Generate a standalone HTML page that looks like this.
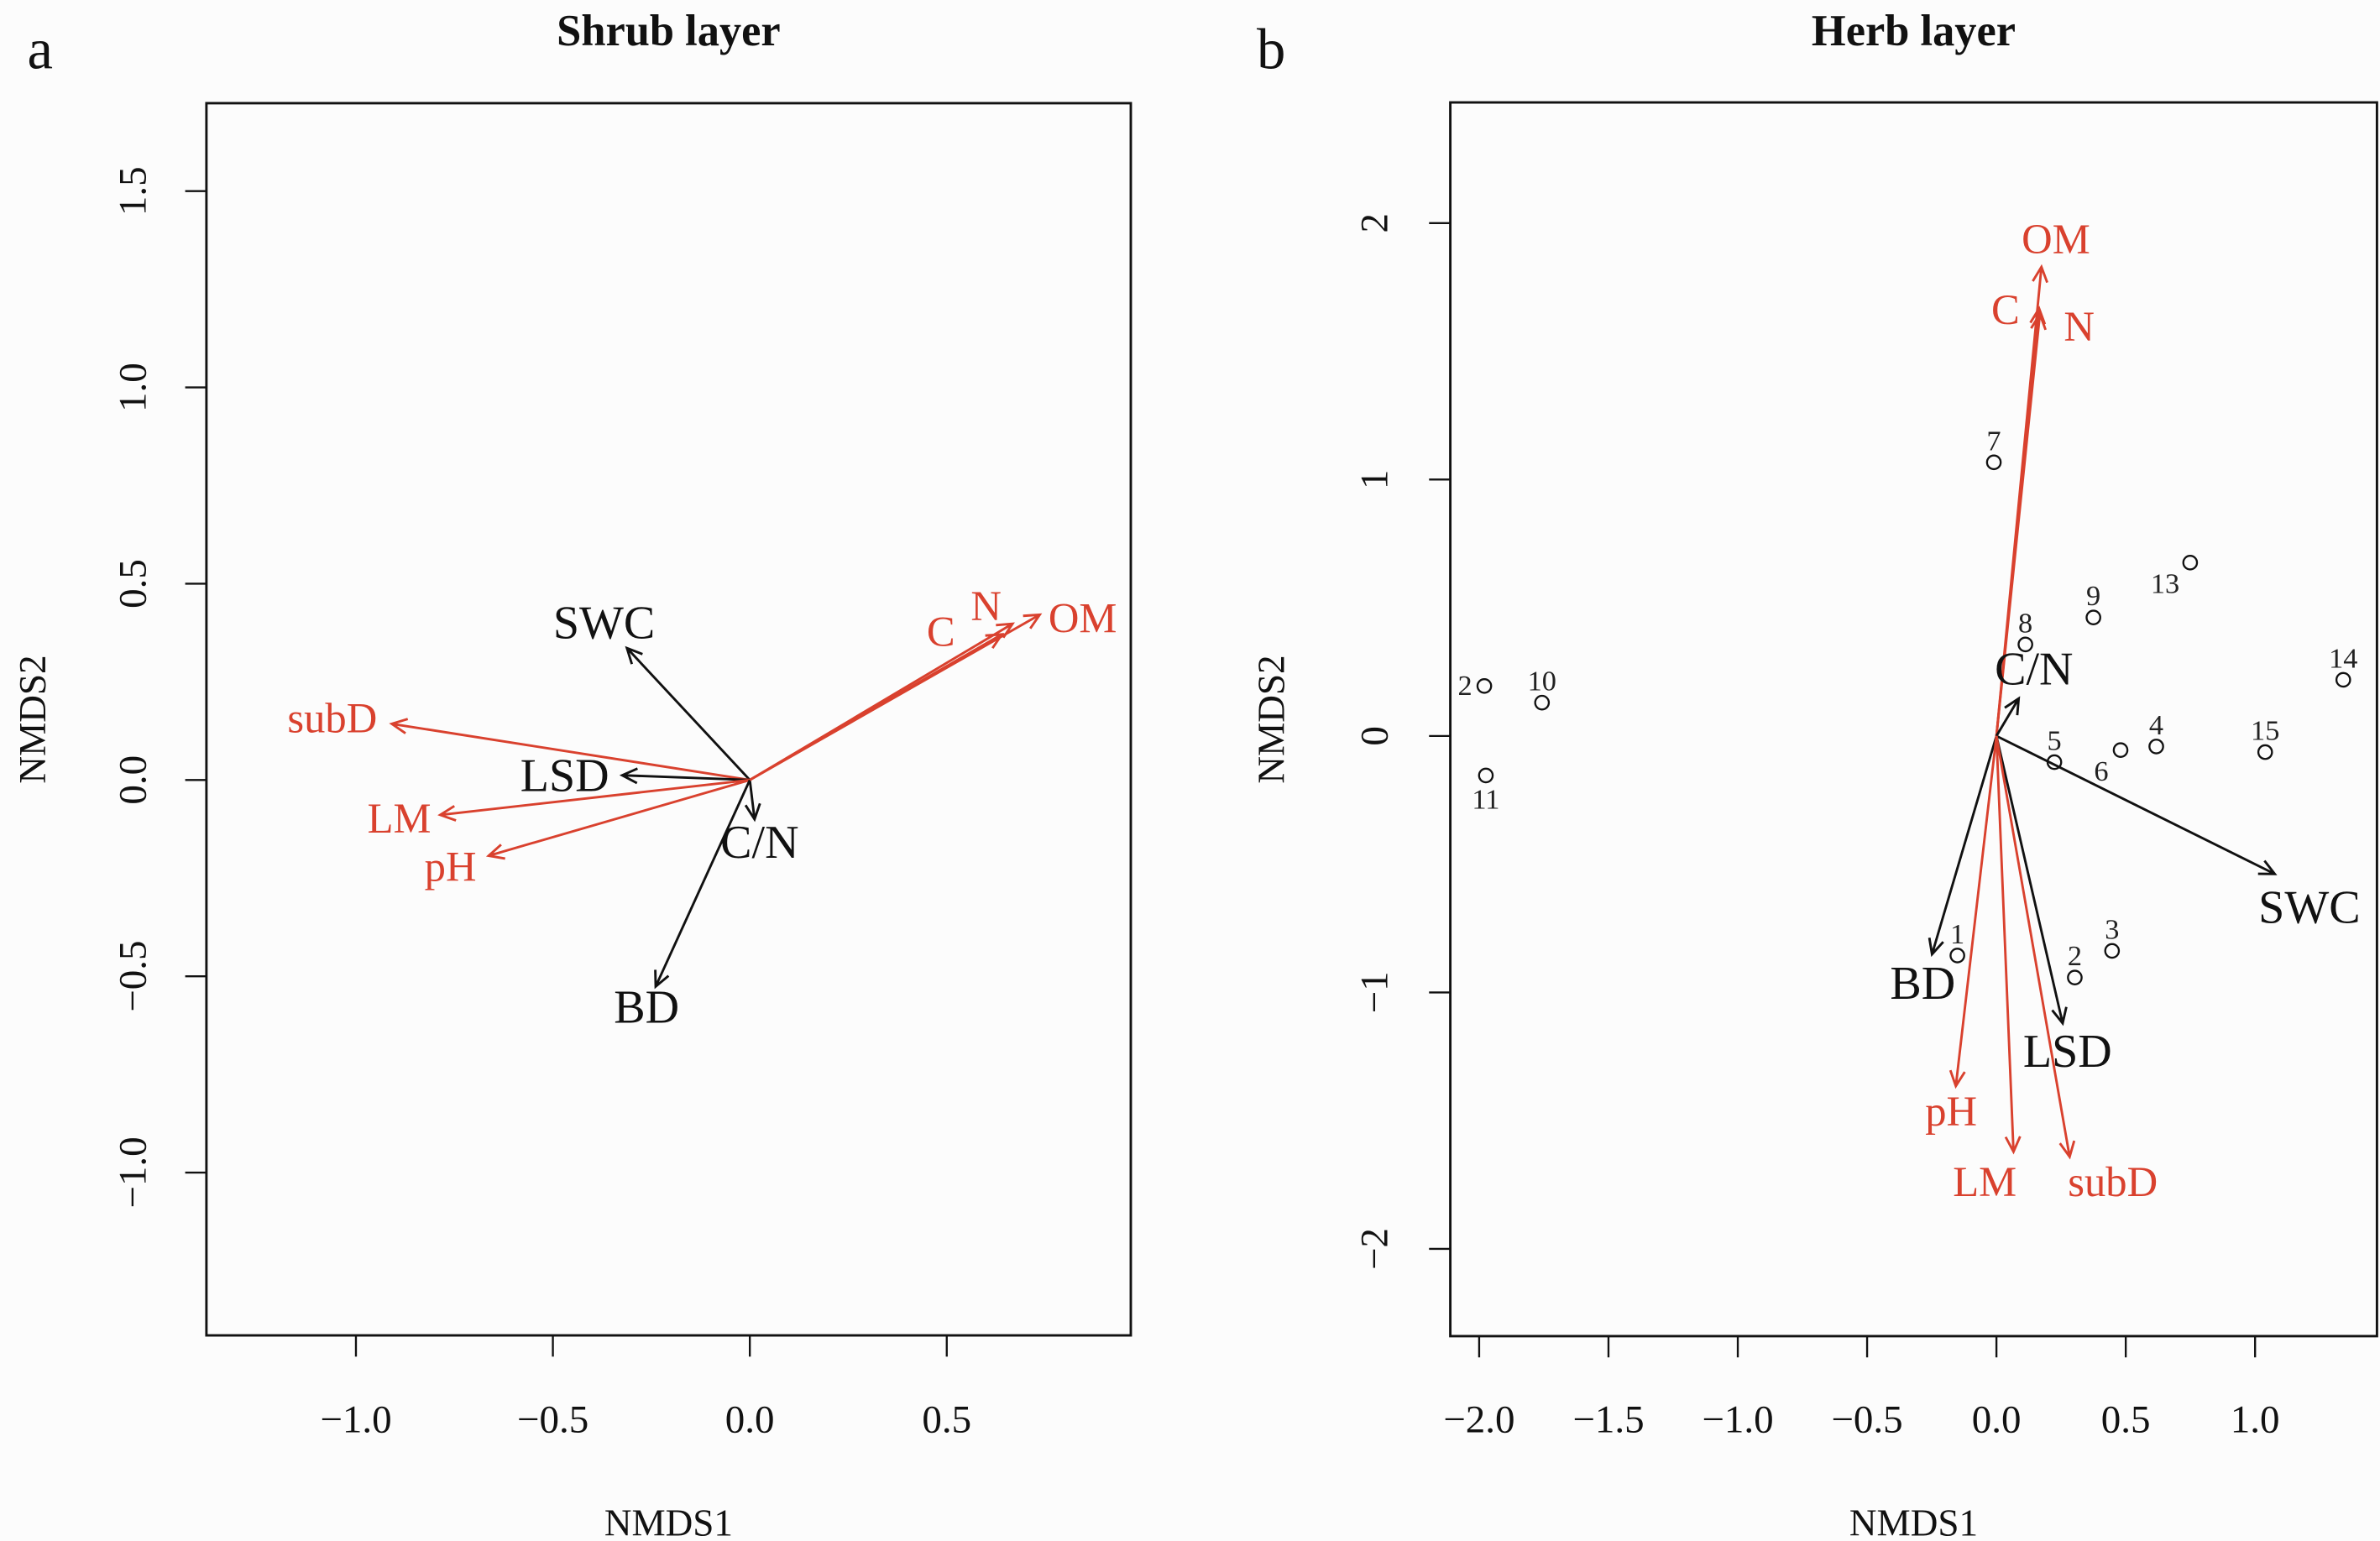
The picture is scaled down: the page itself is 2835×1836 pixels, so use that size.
<!DOCTYPE html>
<html><head><meta charset="utf-8">
<style>
html,body{margin:0;padding:0;background:#fcfcfc;}
svg{display:block;}
text{font-family:"Liberation Serif",serif;}
</style></head>
<body>
<svg id="chart" width="2835" height="1836" viewBox="0 0 1568 1015.5" preserveAspectRatio="none" xmlns="http://www.w3.org/2000/svg">
<rect x="0" y="0" width="1568" height="1015.5" fill="#fcfcfc"/>
<g id="root"></g>
</svg>
<script>
// ---- Panel a (Shrub layer) data ----
const aArrowNames = ["SWC","subD","LSD","LM","pH","C/N","BD","C","N","OM"];
const aArrowX = [-0.312,-0.909,-0.324,-0.786,-0.663,0.012,-0.239,0.640,0.667,0.736];
const aArrowY = [0.336,0.143,0.012,-0.089,-0.193,-0.100,-0.526,0.371,0.398,0.421];
const aArrowRed = [false,true,false,true,true,false,false,true,true,true];
const aLabelX = [-0.370,-1.060,-0.470,-0.890,-0.760,0.025,-0.262,0.485,0.600,0.845];
const aLabelY = [0.400,0.160,0.010,-0.095,-0.218,-0.160,-0.580,0.380,0.445,0.415];
const aXTicks = [-1.0,-0.5,0.0,0.5];
const aXTickLabels = ["\u22121.0","\u22120.5","0.0","0.5"];
const aYTicks = [1.5,1.0,0.5,0.0,-0.5,-1.0];
const aYTickLabels = ["1.5","1.0","0.5","0.0","\u22120.5","\u22121.0"];

// ---- Panel b (Herb layer) data ----
const bSiteLabels = ["7","8","9","13","14","15","4","6","5","1","2","3","2","10","11"];
const bSiteX = [-0.010,0.112,0.375,0.749,1.341,1.039,0.618,0.480,0.224,-0.151,0.303,0.447,-1.980,-1.757,-1.974];
const bSiteY = [1.067,0.357,0.462,0.676,0.219,-0.063,-0.041,-0.055,-0.102,-0.856,-0.942,-0.838,0.195,0.130,-0.154];
const bArrowNames = ["OM","C","N","C/N","SWC","BD","LSD","pH","LM","subD"];
const bArrowX = [0.174,0.165,0.168,0.086,1.076,-0.249,0.256,-0.157,0.066,0.283];
const bArrowY = [1.829,1.667,1.645,0.146,-0.538,-0.851,-1.120,-1.365,-1.621,-1.641];
const bArrowRed = [true,true,true,false,false,false,false,true,true,true];
const bLabelX = [0.230,0.035,0.320,0.145,1.210,-0.285,0.275,-0.175,-0.045,0.450];
const bLabelY = [1.940,1.665,1.600,0.260,-0.670,-0.965,-1.230,-1.460,-1.735,-1.735];
const bXTicks = [-2.0,-1.5,-1.0,-0.5,0.0,0.5,1.0];
const bXTickLabels = ["\u22122.0","\u22121.5","\u22121.0","\u22120.5","0.0","0.5","1.0"];
const bYTicks = [2,1,0,-1,-2];
const bYTickLabels = ["2","1","0","\u22121","\u22122"];

const NS = "http://www.w3.org/2000/svg";
const root = document.getElementById("root");
function mk(tag, attrs, parent){
  const e = document.createElementNS(NS, tag);
  for (const k in attrs) e.setAttribute(k, attrs[k]);
  (parent||root).appendChild(e);
  return e;
}
const RED = "#d9412e";

function panel(cfg){
  const g = mk("g", {});
  
  
  const sx = v => cfg.x0 + cfg.kx * v;
  const sy = v => cfg.y0 - cfg.ky * v;
  // box
  const box = mk("rect", {x:cfg.left, y:cfg.top, width:cfg.right-cfg.left, height:cfg.bottom-cfg.top, fill:"none", stroke:"#111", "stroke-width":1.6}, g);
  
  
  // title
  const t = mk("text", {x:(cfg.left+cfg.right)/2, y:30, "text-anchor":"middle", "font-size":29, "font-weight":"bold", fill:"#111"}, g);
  t.textContent = cfg.title;
  
  
  const pl = mk("text", {x:cfg.letterX, y:45, "font-size":38, fill:"#111"}, g);
  pl.textContent = cfg.letter;
  
  
  // x ticks
  cfg.xt.forEach((v,i)=>{
    const x = sx(v);
    const l = mk("line", {x1:x, x2:x, y1:cfg.bottom, y2:cfg.bottom+14, stroke:"#111", "stroke-width":1.3}, g);
    
    
    const tx = mk("text", {x:x, y:944, "text-anchor":"middle", "font-size":26, fill:"#111"}, g);
    tx.textContent = cfg.xtl[i];
    
    
  });
  cfg.yt.forEach((v,i)=>{
    const y = sy(v);
    const l = mk("line", {x1:cfg.left, x2:cfg.left-14, y1:y, y2:y, stroke:"#111", "stroke-width":1.3}, g);
    
    
    const tx = mk("text", {x:cfg.ytx, y:y, "text-anchor":"middle", "font-size":26, fill:"#111", transform:`rotate(-90 ${cfg.ytx} ${y})`}, g);
    tx.textContent = cfg.ytl[i];
    
    
  });
  const xt = mk("text", {x:(cfg.left+cfg.right)/2, y:1012, "text-anchor":"middle", "font-size":25, fill:"#111"}, g);
  xt.textContent = "NMDS1";
  
  
  const ym = (cfg.top+cfg.bottom)/2;
  const yt = mk("text", {x:cfg.ytitleX, y:ym, "text-anchor":"middle", "font-size":25, fill:"#111", transform:`rotate(-90 ${cfg.ytitleX} ${ym})`}, g);
  yt.textContent = "NMDS2";
  
  
  // sites
  if (cfg.sx){
    cfg.sx.forEach((v,i)=>{
      const cx = sx(v), cy = sy(cfg.sy[i]);
      const c = mk("circle", {cx:cx, cy:cy, r:4.5, fill:"none", stroke:"#111", "stroke-width":1.3}, g);
      
      
      const lab = cfg.sl[i];
      let lx = cx, ly = cy - 8, anc = "middle";
      if (lab === "2" && v < -1.5){ lx = cx - 8; ly = cy + 6; anc = "end"; }
      if (lab === "11"){ ly = cy + 22; }
      if (lab === "13"){ lx = cx - 7; ly = cy + 20; anc = "end"; }
      if (lab === "6"){ lx = cx - 8; ly = cy + 20; anc = "end"; }
      const tl = mk("text", {x:lx, y:ly, "text-anchor":anc, "font-size":19, fill:"#222"}, g);
      tl.textContent = lab;
      
      
    });
  }
  // arrows
  const ox = sx(0), oy = sy(0);
  cfg.ax.forEach((v,i)=>{
    const tx = sx(v), ty = sy(cfg.ay[i]);
    const col = cfg.ar[i] ? RED : "#111";
    const ang = Math.atan2(ty-oy, tx-ox);
    const h = 11, sp = 0.45;
    const p1x = tx - h*Math.cos(ang-sp), p1y = ty - h*Math.sin(ang-sp);
    const p2x = tx - h*Math.cos(ang+sp), p2y = ty - h*Math.sin(ang+sp);
    const a = mk("path", {d:`M${ox},${oy} L${tx},${ty} M${p1x},${p1y} L${tx},${ty} L${p2x},${p2y}`, fill:"none", stroke:col, "stroke-width":1.6}, g);
    
    
    const lx = sx(cfg.lx[i]), ly = sy(cfg.ly[i]);
    const tl = mk("text", {x:lx, y:ly+10, "text-anchor":"middle", "font-size":cfg.ar[i]?28:31, fill:col}, g);
    tl.textContent = cfg.an[i];
    
    
  });
}

panel({name:"panel-a-shrub", title:"Shrub layer", letter:"a", letterX:18,
  left:136, right:745, top:68, bottom:880, x0:494, kx:259.5, y0:514, ky:258.7,
  xt:aXTicks, xtl:aXTickLabels, yt:aYTicks, ytl:aYTickLabels, ytx:96, ytitleX:30,
  ax:aArrowX, ay:aArrowY, ar:aArrowRed, an:aArrowNames, lx:aLabelX, ly:aLabelY});
panel({name:"panel-b-herb", title:"Herb layer", letter:"b", letterX:828,
  left:955.5, right:1566, top:67.5, bottom:880.5, x0:1315.3, kx:170.4, y0:485, ky:169,
  xt:bXTicks, xtl:bXTickLabels, yt:bYTicks, ytl:bYTickLabels, ytx:914, ytitleX:846,
  sx:bSiteX, sy:bSiteY, sl:bSiteLabels,
  ax:bArrowX, ay:bArrowY, ar:bArrowRed, an:bArrowNames, lx:bLabelX, ly:bLabelY});
</script>
</body></html>
